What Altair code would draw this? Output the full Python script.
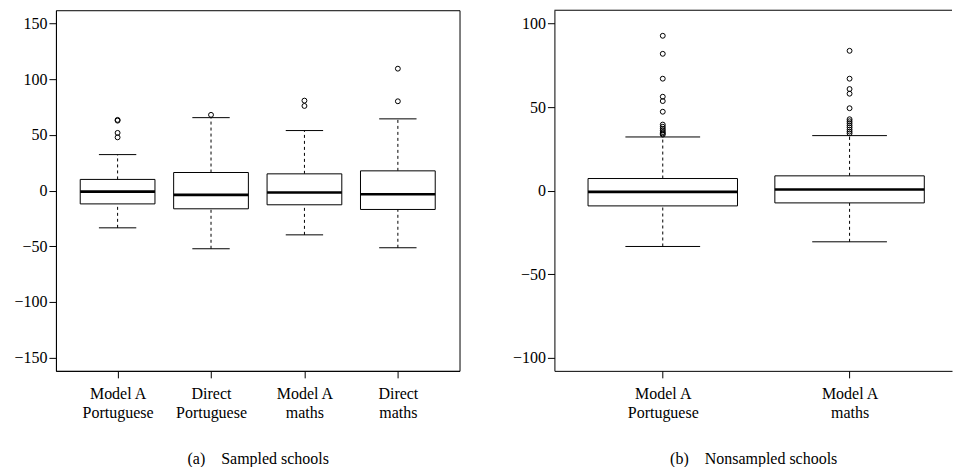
import json
import altair as alt
import pandas as pd

# ---- Panel (a): sampled schools ----
cats_a = ["Model A\nPortuguese", "Direct\nPortuguese", "Model A\nmaths", "Direct\nmaths"]
lower_a = [-33.5, -52.3, -39.8, -51.4]
q1_a = [-12.0, -16.4, -12.8, -17.0]
med_a = [-1.0, -3.9, -1.8, -3.3]
q3_a = [10.0, 16.2, 15.0, 17.7]
upper_a = [32.3, 65.5, 53.9, 64.4]
outliers_a = [[63.5, 62.8, 51.8, 47.8], [68.0], [80.8, 76.0], [109.5, 80.2]]
yticks_a = [-150, -100, -50, 0, 50, 100, 150]

# ---- Panel (b): nonsampled schools ----
cats_b = ["Model A\nPortuguese", "Model A\nmaths"]
lower_b = [-33.5, -30.7]
q1_b = [-9.2, -7.4]
med_b = [-0.8, 0.6]
q3_b = [7.2, 8.8]
upper_b = [32.1, 32.9]
outliers_b = [
    [92.7, 81.9, 67.0, 56.2, 53.6, 47.2, 39.5, 38.2, 37.0, 36.0, 35.0, 34.2, 33.5],
    [83.7, 67.0, 60.8, 58.0, 49.3, 42.7, 41.5, 40.3, 39.0, 37.8, 36.5, 35.3, 34.2],
]
yticks_b = [-100, -50, 0, 50, 100]

FONT = "Liberation Serif"
INK = "black"
SP = "\u00a0" * 4


def panel(cats, lower, q1, med, q3, upper, outliers, xdom, ydom, yticks,
          width, height, title, full_frame):
    n = len(cats)
    df = pd.DataFrame({
        "idx": list(range(1, n + 1)),
        "lower": lower, "q1": q1, "med": med, "q3": q3, "upper": upper,
    })
    out_rows = []
    for i, vals in enumerate(outliers):
        for v in vals:
            out_rows.append({"idx": i + 1, "v": v})
    dfo = pd.DataFrame(out_rows)

    label_lists = [c.split("\n") for c in cats]
    label_expr = json.dumps(label_lists) + "[datum.value - 1]"

    x_axis = alt.Axis(
        values=list(range(1, n + 1)), labelExpr=label_expr, title=title,
        tickSize=7, tickColor=INK, domainColor=INK, grid=False, labelAngle=0,
        labelFont=FONT, labelFontSize=16, labelColor=INK, labelPadding=8,
        labelLineHeight=18.7, labelOverlap=False, labelFlush=False,
        titleFont=FONT, titleFontSize=16, titleFontWeight="normal",
        titleColor=INK, titleY=93, titleBaseline="alphabetic",
    )
    y_axis = alt.Axis(
        values=yticks, tickSize=7, tickColor=INK, domainColor=INK, grid=False,
        title=None, labelFont=FONT, labelFontSize=16, labelColor=INK,
        labelPadding=2, labelOverlap=False, labelFlush=False,
    )
    xs = alt.Scale(domain=xdom, nice=False, zero=False)
    ys = alt.Scale(domain=ydom, nice=False, zero=False)

    base = alt.Chart(df).transform_calculate(
        xl="datum.idx - 0.4", xr="datum.idx + 0.4",
        cl="datum.idx - 0.2", cr="datum.idx + 0.2",
    )
    box = base.mark_rect(fill="white", stroke=INK, strokeWidth=1).encode(
        x=alt.X("xl:Q", scale=xs, axis=x_axis), x2="xr:Q",
        y=alt.Y("q1:Q", scale=ys, axis=y_axis), y2="q3:Q",
    )
    median = base.mark_rule(color=INK, strokeWidth=2.6).encode(
        x=alt.X("xl:Q", scale=xs, axis=x_axis), x2="xr:Q",
        y=alt.Y("med:Q", scale=ys, axis=y_axis),
    )
    wh_up = base.mark_rule(color=INK, strokeWidth=1, strokeDash=[3, 3]).encode(
        x=alt.X("idx:Q", scale=xs, axis=x_axis),
        y=alt.Y("q3:Q", scale=ys, axis=y_axis), y2="upper:Q",
    )
    wh_lo = base.mark_rule(color=INK, strokeWidth=1, strokeDash=[3, 3]).encode(
        x=alt.X("idx:Q", scale=xs, axis=x_axis),
        y=alt.Y("lower:Q", scale=ys, axis=y_axis), y2="q1:Q",
    )
    cap_up = base.mark_rule(color=INK, strokeWidth=1).encode(
        x=alt.X("cl:Q", scale=xs, axis=x_axis), x2="cr:Q",
        y=alt.Y("upper:Q", scale=ys, axis=y_axis),
    )
    cap_lo = base.mark_rule(color=INK, strokeWidth=1).encode(
        x=alt.X("cl:Q", scale=xs, axis=x_axis), x2="cr:Q",
        y=alt.Y("lower:Q", scale=ys, axis=y_axis),
    )
    pts = alt.Chart(dfo).mark_point(
        shape="circle", filled=False, color=INK, size=24, strokeWidth=1, opacity=1
    ).encode(
        x=alt.X("idx:Q", scale=xs, axis=x_axis),
        y=alt.Y("v:Q", scale=ys, axis=y_axis),
    )
    layers = [wh_up, wh_lo, box, median, cap_up, cap_lo, pts]
    if full_frame:
        view = alt.ViewBackground(stroke=INK, strokeWidth=1, fill="white")
    else:
        top = alt.Chart(pd.DataFrame({"a": [0]})).mark_rule(
            color=INK, strokeWidth=1
        ).encode(x=alt.value(0), x2=alt.value(width), y=alt.value(0))
        layers.append(top)
        view = alt.ViewBackground(stroke=None, fill="white")
    return alt.layer(*layers).properties(width=width, height=height, view=view)


WB = 398
left = panel(cats_a, lower_a, q1_a, med_a, q3_a, upper_a, outliers_a,
             [0.34, 4.66], [-162, 162], yticks_a, 404, 361,
             "(a)" + SP + "Sampled schools", True)
right = panel(cats_b, lower_b, q1_b, med_b, q3_b, upper_b, outliers_b,
              [0.42, 0.42 + WB / 187.0], [-108, 108], yticks_b, WB, 361,
              "(b)" + SP + "Nonsampled schools", False)

chart = alt.hconcat(left, right, spacing=95, bounds="flush").properties(
    padding={"left": 13, "top": 9, "right": 0, "bottom": 0},
    background="white",
).configure_view(stroke=None)

chart.save("out.html", embed_options={"renderer": "svg", "actions": False})
